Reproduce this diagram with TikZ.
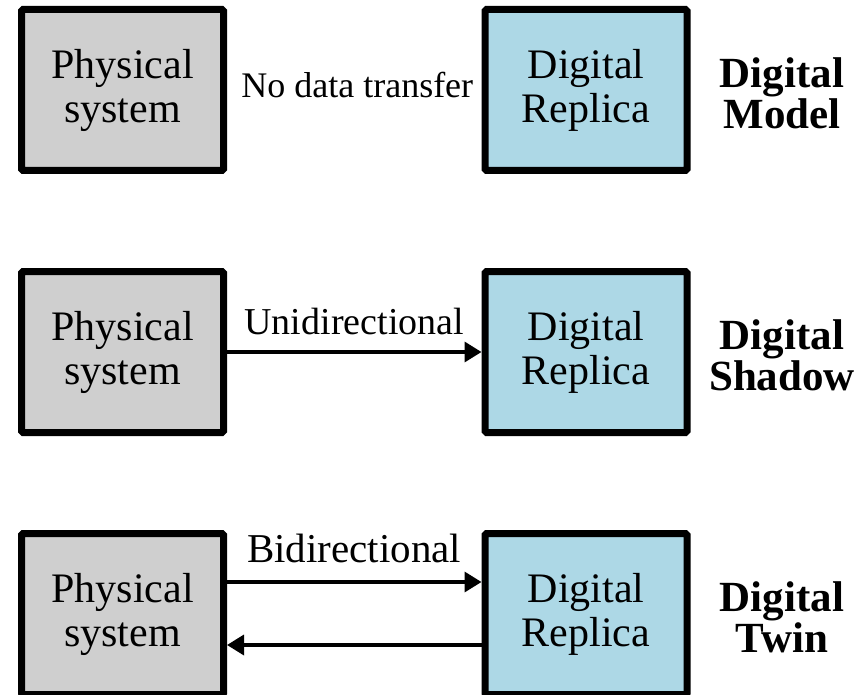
\documentclass[tikz,border=0pt]{standalone}
\usepackage{fontspec}
\setmainfont{Liberation Serif}
\usetikzlibrary{arrows.meta}

\definecolor{physfill}{RGB}{207,207,207}
\definecolor{replfill}{RGB}{173,216,230}

\tikzset{
  block/.style={draw=black, line width=7pt, rounded corners=1.5pt,
    minimum width=202pt, minimum height=161pt, inner sep=0pt,
    align=center, font=\fontsize{42}{44}\selectfont},
  physbox/.style={block, fill=physfill},
  replbox/.style={block, fill=replfill},
  kind/.style={align=center, inner sep=0pt,
    font=\fontsize{43}{41}\selectfont\bfseries},
  flow/.style={line width=3.5pt, -{Triangle[length=17pt,width=20pt]}},
  flowlabel/.style={inner sep=0pt, font=\fontsize{38}{40}\selectfont}
}

\begin{document}
\begin{tikzpicture}[x=1pt, y=-1pt]
  \useasboundingbox (0,0) rectangle (859,695);
  \clip (0,0) rectangle (859,695);

  % Digital model: no exchange of data
  \node[physbox] (p1) at (122.5,90) {Physical\\system};
  \node[replbox] (d1) at (586,90) {Digital\\Replica};
  \node[kind] (k1) at (782,93) {Digital\\Model};
  \path (p1.east) -- node[flowlabel, font=\fontsize{36}{38}\selectfont,
    anchor=base, xshift=3pt, yshift=-8pt] {No data transfer} (d1.west);

  % Digital shadow: one-way flow
  \node[physbox] (p2) at (122.5,352) {Physical\\system};
  \node[replbox] (d2) at (586,352) {Digital\\Replica};
  \node[kind] (k2) at (782,355) {Digital\\Shadow};
  \draw[flow] (p2.east) -- node[flowlabel, above=15pt] {Unidirectional} (d2.west);

  % Digital twin: two-way flow
  \node[physbox] (p3) at (122.5,614) {Physical\\system};
  \node[replbox] (d3) at (586,614) {Digital\\Replica};
  \node[kind] (k3) at (782,617) {Digital\\Twin};
  \draw[flow] ([yshift=32pt]p3.east) -- node[flowlabel,
    font=\fontsize{41}{43}\selectfont, above=17pt] {Bidirectional}
    ([yshift=32pt]d3.west);
  \draw[flow] ([yshift=-31pt]d3.west) -- ([yshift=-31pt]p3.east);
\end{tikzpicture}
\end{document}
